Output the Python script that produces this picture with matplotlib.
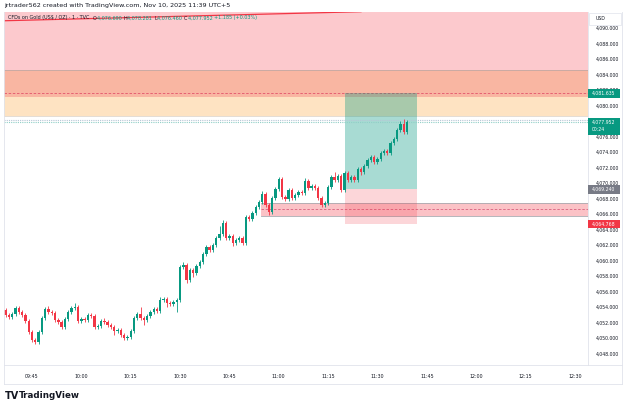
import matplotlib
matplotlib.use('Agg')
import matplotlib.pyplot as plt
from matplotlib.patches import Rectangle
import matplotlib.transforms as mtrans

# ---------------- data ----------------
first_open = 4053.68
closes = [4053.03, 4052.77, 4053.16, 4053.94, 4053.42, 4053.03, 4052.26, 4050.84, 4049.81, 4049.55,
          4050.84, 4052.65, 4053.81, 4053.42, 4053.29, 4052.39, 4052.13, 4051.48, 4052.52, 4053.42,
          4053.94, 4054.06, 4052.26, 4052.52, 4052.39, 4053.03, 4052.90, 4051.48, 4051.61, 4052.26,
          4052.13, 4051.74, 4051.48, 4050.97, 4051.10, 4050.45, 4050.06, 4050.19, 4050.97, 4052.65,
          4053.16, 4052.65, 4052.39, 4052.90, 4053.42, 4053.81, 4053.55, 4054.97, 4055.10, 4054.58,
          4054.45, 4054.71, 4054.97, 4059.23, 4059.48, 4057.55, 4058.84, 4058.45, 4059.35, 4059.87,
          4060.90, 4061.81, 4061.42, 4062.06, 4062.97, 4063.48, 4064.90, 4062.97, 4063.23, 4062.32,
          4062.71, 4062.97, 4062.32, 4065.68, 4065.42, 4066.19, 4066.97, 4067.61, 4068.65, 4067.23,
          4066.32, 4068.13, 4069.29, 4070.58, 4068.26, 4068.00, 4069.16, 4068.13, 4068.52, 4068.90,
          4068.77, 4070.32, 4069.42, 4069.68, 4069.42, 4068.13, 4067.23, 4067.48, 4069.55, 4070.84,
          4070.45, 4070.97, 4069.16, 4071.35, 4070.45, 4070.84, 4070.45, 4071.87, 4071.48, 4072.26,
          4073.03, 4073.42, 4072.77, 4073.16, 4073.94, 4074.19, 4073.94, 4075.23, 4075.74, 4076.90,
          4077.68, 4076.65, 4077.952]
upper_wick = [0.3, 0.2, 0.2, 0.3, 0.2, 0.2, 0.2, 0.3, 0.2, 0.2,
              0.3, 0.2, 0.3, 0.4, 0.2, 0.2, 0.2, 0.3, 0.2, 0.3,
              0.3, 0.5, 0.2, 0.2, 0.2, 0.3, 0.2, 0.2, 0.2, 0.3,
              0.4, 0.2, 0.2, 0.2, 0.2, 0.3, 0.2, 0.2, 0.2, 0.2,
              0.3, 0.9, 0.2, 0.2, 0.3, 0.2, 0.3, 0.4, 0.3, 0.3,
              0.2, 0.2, 0.2, 0.3, 0.4, 0.2, 0.2, 0.2, 0.3, 0.3,
              0.3, 0.3, 0.2, 0.3, 0.3, 1.1, 0.4, 0.2, 0.2, 0.3,
              0.3, 0.2, 0.2, 0.3, 0.2, 0.3, 0.2, 0.3, 0.4, 0.2,
              0.2, 0.2, 0.3, 0.3, 0.2, 0.2, 0.3, 0.2, 0.2, 0.3,
              0.3, 0.4, 0.2, 0.2, 0.2, 0.2, 0.2, 0.2, 0.3, 0.3,
              0.7, 0.2, 0.3, 0.3, 0.2, 0.3, 0.2, 0.3, 0.2, 0.3,
              0.2, 0.2, 0.3, 0.2, 0.3, 0.2, 0.2, 0.3, 0.2, 0.3,
              0.4, 0.6, 0.3]
lower_wick = [0.3, 0.2, 0.2, 0.2, 0.3, 0.2, 0.2, 0.3, 0.3, 0.2,
              0.2, 0.2, 0.2, 0.2, 0.3, 0.2, 0.2, 0.3, 0.2, 0.2,
              0.2, 0.2, 0.3, 0.2, 0.2, 0.2, 0.2, 0.3, 0.2, 0.2,
              0.2, 0.2, 0.3, 0.5, 0.2, 0.2, 0.3, 0.2, 0.2, 0.2,
              0.2, 0.3, 0.6, 0.2, 0.2, 0.2, 0.2, 0.2, 0.2, 0.5,
              0.2, 0.2, 1.3, 0.2, 0.2, 0.4, 0.2, 0.5, 0.2, 0.2,
              0.2, 0.2, 0.3, 0.2, 0.2, 0.2, 0.2, 0.3, 0.2, 0.4,
              0.2, 0.2, 0.3, 0.2, 0.2, 0.2, 0.2, 0.2, 0.2, 0.3,
              0.4, 0.3, 0.2, 0.2, 0.2, 0.3, 0.2, 0.3, 0.3, 0.2,
              0.2, 0.2, 0.2, 0.3, 0.2, 0.2, 0.3, 0.2, 0.2, 0.2,
              0.2, 0.2, 0.3, 0.2, 0.2, 0.3, 0.2, 0.2, 0.4, 0.2,
              0.2, 0.2, 0.2, 0.2, 0.2, 0.2, 0.3, 0.2, 0.2, 0.2,
              0.2, 0.3, 0.2]
start_minute = -8          # first candle = 09:37 (minutes relative to 09:45)
time_labels = ["09:45", "10:00", "10:15", "10:30", "10:45", "11:00",
               "11:15", "11:30", "11:45", "12:00", "12:15", "12:30"]
price_ticks = [4048, 4050, 4052, 4054, 4056, 4058, 4060, 4062, 4064, 4066, 4068,
               4070, 4072, 4074, 4076, 4080, 4084, 4086, 4088, 4090]
partly_hidden_tick = 4082

zone_pink = (4084.62, 4095.0)
zone_salmon = (4081.2, 4084.62)
zone_orange = (4078.7, 4081.2)
take_profit = 4081.635
entry_price = 4069.240
stop_loss = 4064.768
last_price = 4077.952
band = (4065.85, 4067.5, 4066.7)
pos_start, pos_end = 95.1, 117.0
band_start = 69.6
trend_line = ([-8.5, 100.0], [4091.0, 4092.17])

GREEN = '#089981'
RED = '#f23645'
TXT = '#131722'

# ---------------- figure ----------------
W, H = 625, 407
fig = plt.figure(figsize=(W / 100, H / 100), dpi=100)
fig.patch.set_facecolor('white')


def box(x0, y0, x1, y1):
    return [x0 / W, 1 - y1 / H, (x1 - x0) / W, (y1 - y0) / H]


ax = fig.add_axes(box(4, 12, 588, 365))
ax.set_xlim(-8.51, 169.0)
ax.set_ylim(4046.58, 4092.13)
for s in ax.spines.values():
    s.set_visible(False)
ax.set_xticks([])
ax.set_yticks([])

# zones
ax.axhspan(*zone_pink, color='#fcc9cd', zorder=0, lw=0)
ax.axhspan(*zone_salmon, color='#f9b6a2', zorder=0, lw=0)
ax.axhspan(*zone_orange, color='#fee3c2', zorder=0, lw=0)
ax.axhline(zone_salmon[1], color='#b8a6a4', lw=0.5, zorder=1)
ax.axhline(zone_orange[0], color='#d9cfc4', lw=0.5, zorder=1)
ax.axhline(take_profit, color='#e2556a', lw=0.6, ls=(0, (3, 2)), zorder=1)

# trend line
ax.plot(trend_line[0], trend_line[1], color=RED, lw=0.9, zorder=2)

# band
ax.add_patch(Rectangle((band_start, band[0]), 200, band[1] - band[0],
                       facecolor=RED, alpha=0.3, lw=0, zorder=1))
ax.plot([band_start, 200], [band[0], band[0]], color='#a9a9b0', lw=0.6, zorder=1)
ax.plot([band_start, 200], [band[1], band[1]], color='#a9a9b0', lw=0.6, zorder=1)
ax.plot([band_start, 200], [band[2], band[2]], color='#d8607e', lw=0.6,
        ls=(0, (3, 2)), zorder=1)

# position tool
ax.add_patch(Rectangle((pos_start, entry_price), pos_end - pos_start,
                       take_profit - entry_price, facecolor=GREEN, alpha=0.35,
                       lw=0, zorder=1))
ax.add_patch(Rectangle((pos_start, stop_loss), pos_end - pos_start,
                       entry_price - stop_loss, facecolor=RED, alpha=0.2,
                       lw=0, zorder=1))

# last price lines
ax.axhline(last_price, color='#8fcfc6', lw=0.8, ls=(0, (1, 1)), zorder=2)
ax.axhline(last_price + 0.3, color='#b7c6d6', lw=0.8, ls=(0, (1, 1)), zorder=2)

# candles
opens = [first_open] + closes[:-1]
xs = [start_minute + i for i in range(len(closes))]
for x, o, c, u, d in zip(xs, opens, closes, upper_wick, lower_wick):
    col = GREEN if c >= o else RED
    hi = max(o, c) + u
    lo = min(o, c) - d
    ax.vlines(x, lo, hi, color=col, lw=0.6, zorder=3)
    ax.bar(x, max(abs(c - o), 0.04), bottom=min(o, c), width=0.72,
           color=col, lw=0, zorder=4)

# ---------------- price scale ----------------
ty = mtrans.blended_transform_factory(fig.transFigure, ax.transData)
for p in price_ticks:
    ax.text(596 / W, p, f"{p:,.3f}", transform=ty, fontsize=3.3, color=TXT,
            va='center', ha='left', clip_on=False)

# the 4,082 tick is mostly covered by the take-profit label: show only its top
yk = ax.transData.transform((0, partly_hidden_tick))[1]
t82 = fig.text(596 / W, yk / H, f"{partly_hidden_tick:,.3f}", fontsize=3.3,
               color=TXT, va='center', ha='left')
clip = mtrans.Bbox.from_extents(588, yk + 0.5, 625, yk + 10)
t82.set_clip_box(mtrans.TransformedBbox(mtrans.Bbox.unit(), mtrans.Affine2D().scale(1)).frozen())
t82.set_clip_box(clip)
t82.set_clip_on(True)


def price_label(p, text, color, h_px=8.5, sub=None):
    y = ax.transData.transform((0, p))[1] / H  # figure fraction
    hh = h_px / H
    if sub is None:
        rect = Rectangle((588 / W, y - hh / 2), 32 / W, hh, transform=fig.transFigure,
                         facecolor=color, lw=0, zorder=10)
        fig.patches.append(rect)
        fig.text(592 / W, y, text, fontsize=3.3, color='white', va='center',
                 ha='left', zorder=11)
    else:
        top = y + hh / 2
        rect = Rectangle((588 / W, top - 17 / H), 32 / W, 17 / H, transform=fig.transFigure,
                         facecolor=color, lw=0, zorder=10)
        fig.patches.append(rect)
        fig.text(592 / W, y, text, fontsize=3.3, color='white', va='center',
                 ha='left', zorder=11)
        fig.text(592 / W, y - 8 / H, sub, fontsize=3.3, color='white', va='center',
                 ha='left', zorder=11)


price_label(take_profit, f"{take_profit:,.3f}", GREEN)
price_label(last_price, f"{last_price:,.3f}", GREEN, sub="00:24")
price_label(entry_price, f"{entry_price:,.3f}", '#787b86')
price_label(stop_loss, f"{stop_loss:,.3f}", RED)

# USD label
fig.patches.append(Rectangle((589 / W, 1 - 25 / H), 32 / W, 12 / H,
                             transform=fig.transFigure, facecolor='white',
                             edgecolor='#e0e3eb', lw=0.5, zorder=10))
fig.text(596 / W, 1 - 19 / H, "USD", fontsize=3.3, color=TXT, va='center', zorder=11)

# ---------------- time scale ----------------
tx = mtrans.blended_transform_factory(ax.transData, fig.transFigure)
for k, lab in enumerate(time_labels):
    ax.text(15 * k, 1 - 376 / H, lab, transform=tx, fontsize=3.4, color=TXT,
            ha='center', va='center', clip_on=False)

# frame lines
fig.add_artist(plt.Line2D([588 / W, 588 / W], [1 - 365 / H, 1 - 12 / H],
                          color='#e0e3eb', lw=0.6))
fig.add_artist(plt.Line2D([4 / W, 622 / W], [1 - 365 / H, 1 - 365 / H],
                          color='#e0e3eb', lw=0.6))
fig.add_artist(plt.Line2D([4 / W, 622 / W], [1 - 384 / H, 1 - 384 / H],
                          color='#e0e3eb', lw=0.6))
fig.add_artist(plt.Line2D([4 / W, 4 / W], [1 - 384 / H, 1 - 12 / H],
                          color='#e0e3eb', lw=0.6))
fig.add_artist(plt.Line2D([622 / W, 622 / W], [1 - 384 / H, 1 - 12 / H],
                          color='#e0e3eb', lw=0.6))

# ---------------- header / legend ----------------
fig.text(4 / W, 1 - 5 / H, "jrtrader562 created with TradingView.com, Nov 10, 2025 11:39 UTC+5",
         fontsize=4.6, color=TXT, va='center', ha='left')

renderer = fig.canvas.get_renderer()
legend_parts = [("CFDs on Gold (US$ / OZ) · 1 · TVC  ", TXT),
                ("O", TXT), ("4,076.690 ", GREEN),
                ("H", TXT), ("4,078.281 ", GREEN),
                ("L", TXT), ("4,076.460 ", GREEN),
                ("C", TXT), ("4,077.952 ", GREEN),
                ("+1.185 (+0.03%)", GREEN)]
xpos = 8 / W
for txt, col in legend_parts:
    t = fig.text(xpos, 1 - 18 / H, txt, fontsize=3.5, color=col, va='center', ha='left')
    bb = t.get_window_extent(renderer)
    xpos += bb.width / W + 0.0005

# TradingView logo
fig.text(5 / W, 1 - 396 / H, "TV", fontsize=7, color=TXT, weight='heavy',
         va='center', ha='left')
fig.text(19 / W, 1 - 396 / H, "TradingView", fontsize=6.3, color=TXT,
         weight='bold', va='center', ha='left')

fig.savefig('out.png', dpi=100, facecolor='white')
